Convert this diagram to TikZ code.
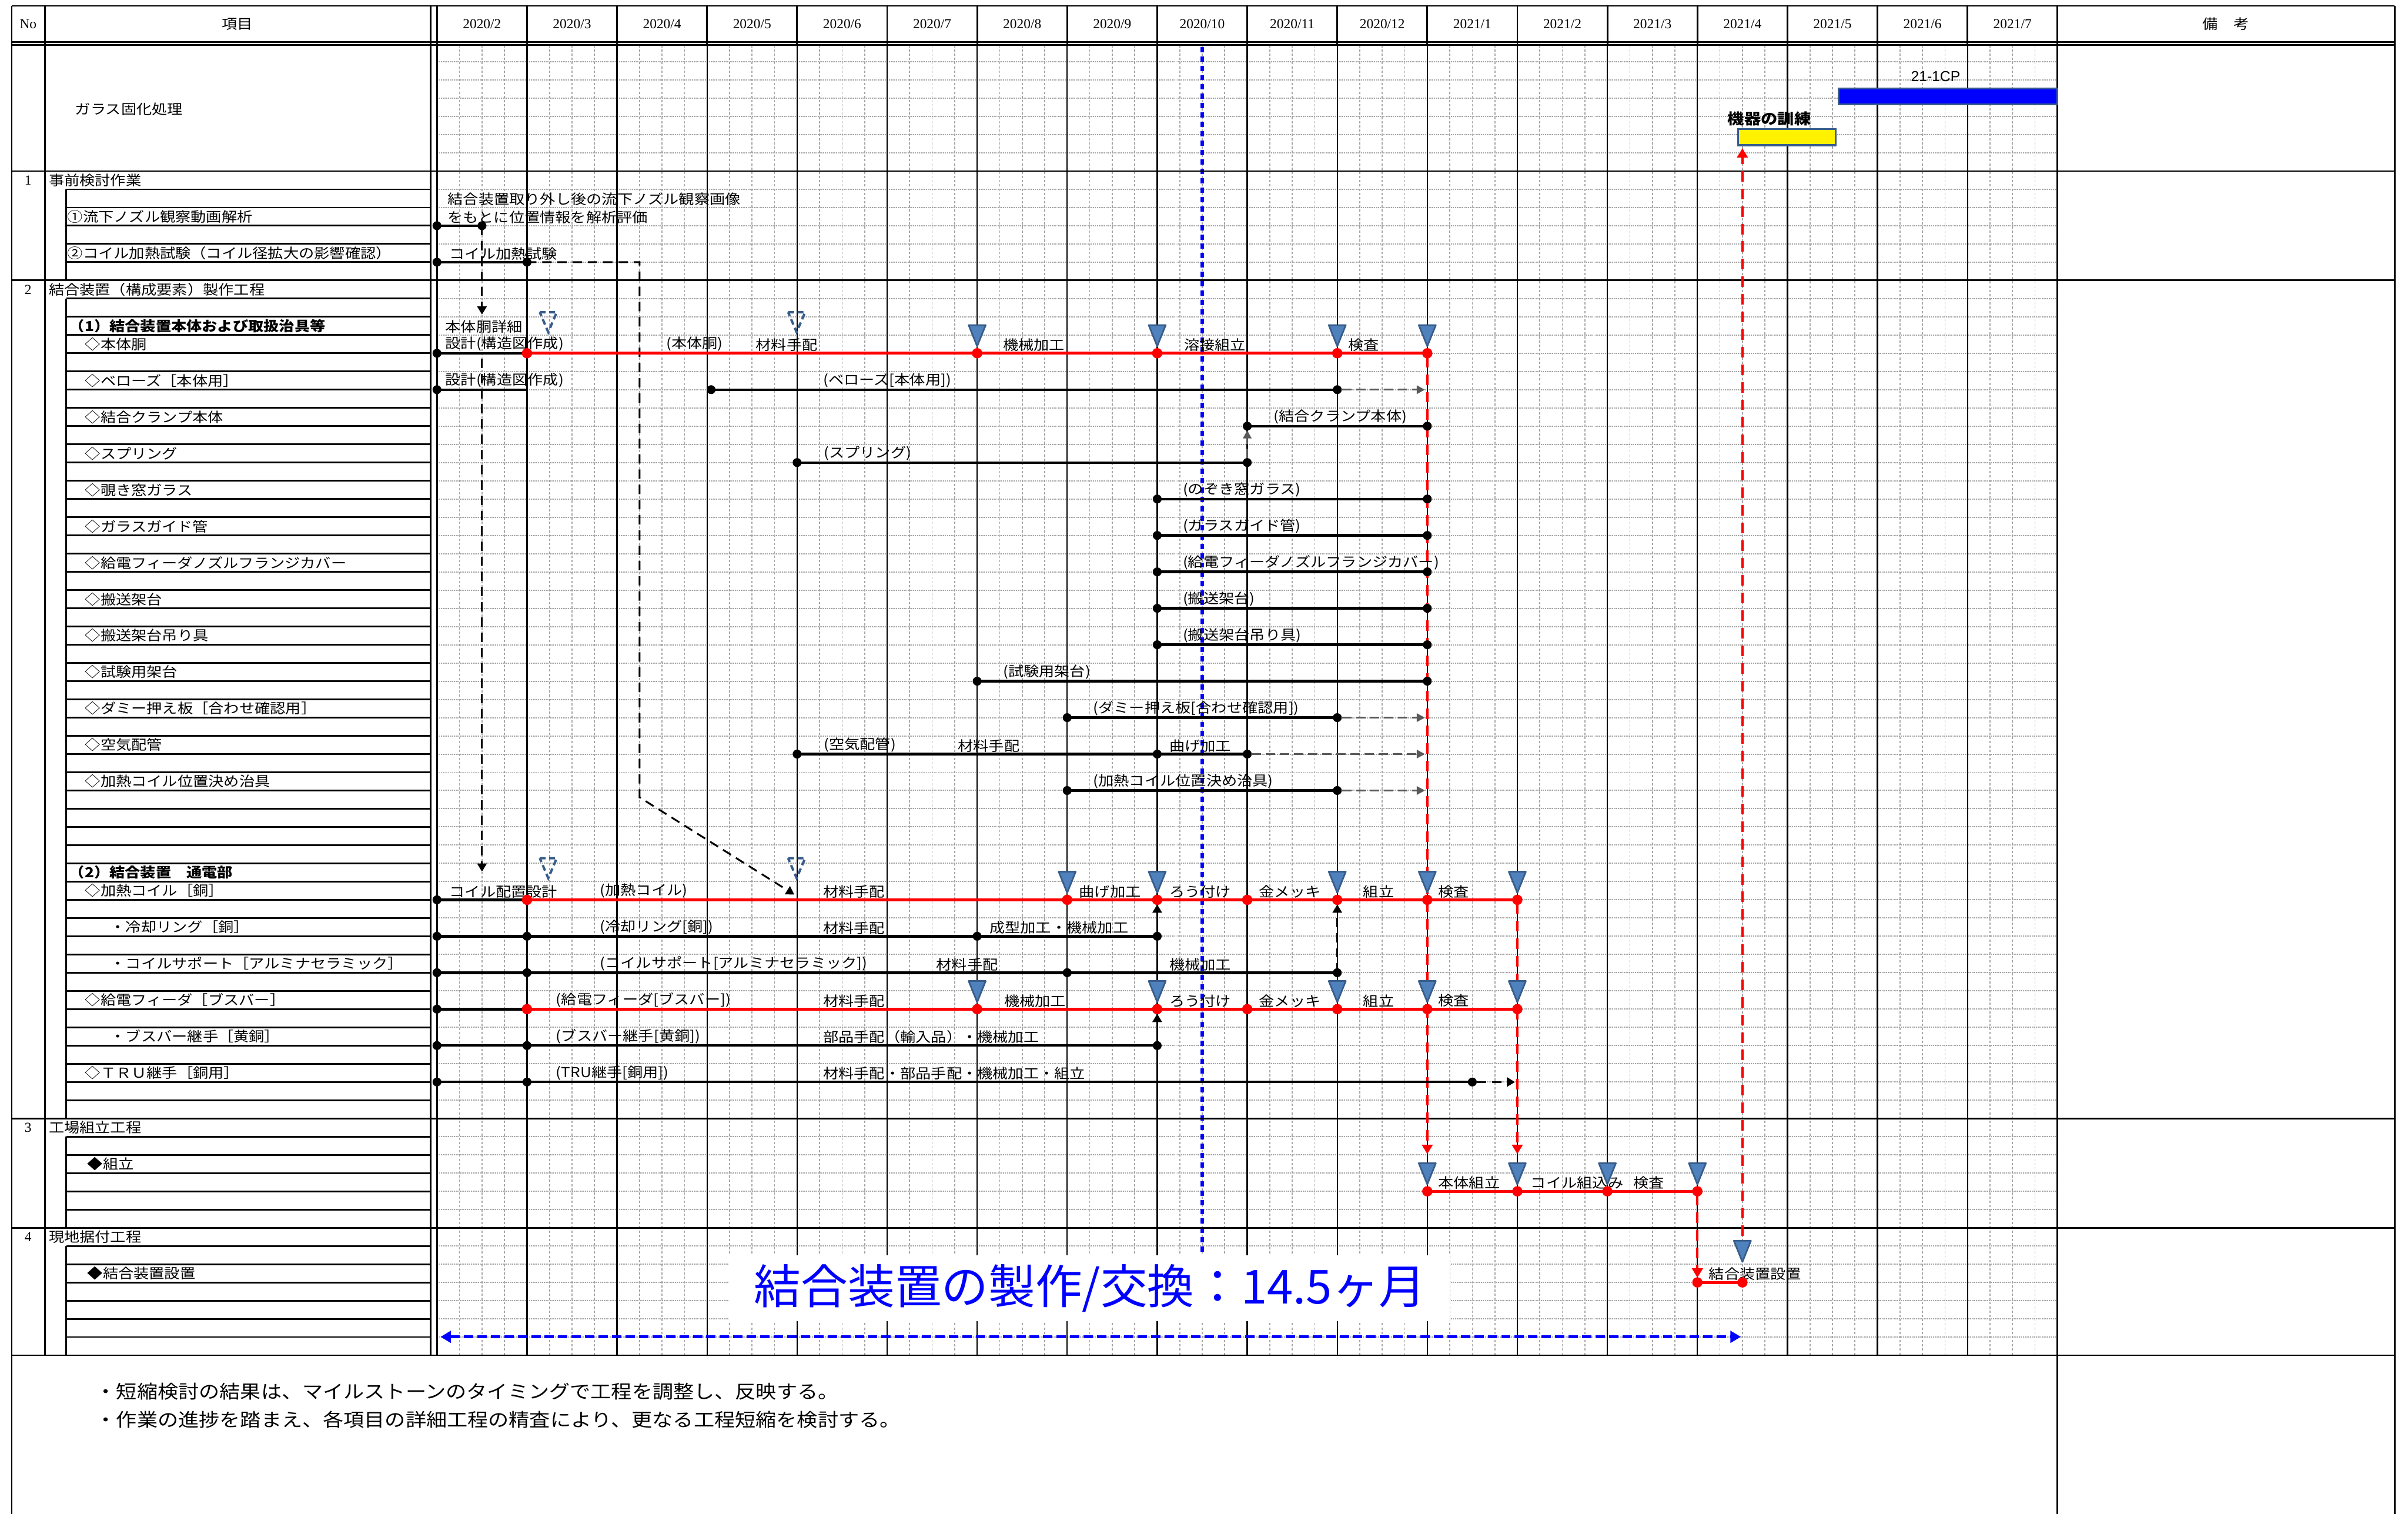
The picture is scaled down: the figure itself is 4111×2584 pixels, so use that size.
\documentclass[tikz,border=0pt]{standalone}
\usepackage{fontspec}
\setmainfont{Liberation Serif}
\newfontfamily\jpfam[FakeStretch=1.12]{Noto Sans CJK JP}
\newfontfamily\jpplain{Noto Sans CJK JP}
\newfontfamily\arialfam{Liberation Sans}
\usetikzlibrary{arrows.meta}
\definecolor{mblue}{HTML}{4F81BD}
\definecolor{mborder}{HTML}{385D8A}
\definecolor{gridg}{HTML}{A6A6A6}
\definecolor{arrg}{HTML}{595959}
\newcounter{lab}
\newcommand\MX[1]{(746+153.7*(#1))}
\newcommand\KY[1]{(292+31.1*(#1))}
\newcommand\jpf{\jpfam\fontsize{11.75}{13}\selectfont}
\newcommand\serf{\fontsize{11.75}{13}\selectfont}
\newcommand\lab[3]{\stepcounter{lab}\node[lbl] (lab\arabic{lab}) at ({#1},{\KY{#2}}) {#3};}
\newcommand\itm[3]{\stepcounter{lab}\node[itm] (itm\arabic{lab}) at ({#1},{\KY{#2+0.5}}) {#3};}
\newcommand\bseg[3]{\draw[bbar] ({\MX{#1}},{\KY{#3}}) -- ({\MX{#2}},{\KY{#3}});}
\newcommand\rseg[3]{\draw[rbar] ({\MX{#1}},{\KY{#3}}) -- ({\MX{#2}},{\KY{#3}});}
\newcommand\bdots[2]{\foreach \mm in {#1}{\fill[black] ({\MX{\mm}},{\KY{#2}}) circle (3.8pt);}}
\newcommand\rdots[2]{\foreach \mm in {#1}{\fill[red] ({\MX{\mm}},{\KY{#2}}) circle (4.4pt);}}
\newcommand\milexy[2]{\draw[mile] ({#1},{#2}) ++(-14.5,0) -- ++(29,0) -- ++(-14.5,36) -- cycle;}
\newcommand\miles[2]{\foreach \mm in {#1}{\milexy{\MX{\mm}}{\KY{#2}-48}}}
\newcommand\pmilexy[2]{\draw[pmile] ({#1},{#2}) ++(-14.5,0) -- ++(29,0) -- ++(-14.5,34) -- cycle;}
\begin{document}
\begin{tikzpicture}[x=0.5pt,y=-0.5pt,
  thickline/.style={line width=1.4pt,black},
  mline/.style={line width=1.1pt,black},
  hgrid/.style={gridg,line width=1pt,dash pattern=on 1pt off 0.6pt},
  vgrid/.style={gridg,line width=0.9pt,dash pattern=on 2pt off 1.6pt},
  bbar/.style={black,line width=2.2pt},
  rbar/.style={red,line width=2.6pt},
  mile/.style={fill=mblue,draw=mborder,line width=1.4pt,line join=round},
  pmile/.style={draw=mborder,line width=2pt,dash pattern=on 5pt off 3pt},
  garr/.style={arrg,line width=1.7pt,dash pattern=on 8pt off 4pt,-{Triangle[length=7pt,width=7pt]}},
  karr/.style={black,line width=1.5pt,dash pattern=on 8pt off 5pt,-{Triangle[length=7pt,width=8pt]}},
  sarr/.style={black,line width=1.5pt,-{Triangle[length=7pt,width=8pt]}},
  rarr/.style={red,line width=2pt,dash pattern=on 9pt off 6pt,-{Triangle[length=8pt,width=9pt]}},
  lbl/.style={anchor=south west,inner sep=0pt,font=\jpf,yshift=1.5pt},
  itm/.style={anchor=west,inner sep=0pt,font=\jpf},
  hdr/.style={inner sep=0pt,font=\serf},
]
\useasboundingbox (0,0) rectangle (4111,2584);
\fill[white] (0,0) rectangle (4111,2584);

% ---------- grid ----------
\foreach \kk in {-6,...,64}{\draw[hgrid] (746,{\KY{\kk}}) -- (3512,{\KY{\kk}});}
\foreach \m in {0,...,17}{\foreach \q in {0.25,0.5,0.75}{\draw[vgrid] ({\MX{\m+\q}},77) -- ({\MX{\m+\q}},2313);}}
\foreach \m in {1,...,17}{\draw[mline] ({\MX{\m}},77) -- ({\MX{\m}},2313); \draw[thickline] ({\MX{\m}},10) -- ({\MX{\m}},77);}

% white box behind big title
\fill[white] (1244,2143) rectangle (2475,2255);

% blue dotted "now" line
\draw[blue,line width=3.5pt,dash pattern=on 4.5pt off 3.5pt] ({\MX{8.5}},80) -- ({\MX{8.5}},2140);

% ---------- frame ----------
\draw[thickline] (20,10) -- (20,2584);
\draw[thickline] (77,10) -- (77,2313);
\draw[thickline] (735,10) -- (735,2313);
\draw[thickline] (746,10) -- (746,2313);
\draw[thickline] (3512,10) -- (3512,2584);
\draw[thickline] (4088,10) -- (4088,2584);
\foreach \yv in {10,72,77,292}{\draw[thickline] (20,\yv) -- (4088,\yv);}
\foreach \kk in {6,52,58,65}{\draw[thickline] (20,{\KY{\kk}}) -- (4088,{\KY{\kk}});}
\foreach \a/\b in {1/6,7/52,53/58,59/65}{\draw[thickline] (113,{\KY{\a}}) -- (113,{\KY{\b}});}
\foreach \kk in {1,...,5}{\draw[thickline] (113,{\KY{\kk}}) -- (735,{\KY{\kk}});}
\foreach \kk in {7,...,51}{\draw[thickline] (113,{\KY{\kk}}) -- (735,{\KY{\kk}});}
\foreach \kk in {53,...,57}{\draw[thickline] (113,{\KY{\kk}}) -- (735,{\KY{\kk}});}
\foreach \kk in {59,...,64}{\draw[thickline] (113,{\KY{\kk}}) -- (735,{\KY{\kk}});}

% ---------- header ----------
\node[hdr] (hNo) at (48,41) {No};
\node[hdr,font=\jpf] (hItem) at (405,41) {項目};
\foreach \m in {0,...,17}{
  \pgfmathtruncatemacro\yy{\m<11 ? 2020 : 2021}
  \pgfmathtruncatemacro\mo{\m<11 ? \m+2 : \m-10}
  \node[hdr] (mon\m) at ({\MX{\m+0.5}},41) {\yy/\mo};
}
\node[hdr,font=\jpf] (hRem) at (3800,41) {備　考};

% ---------- item column ----------
\node[itm] (glass) at (128,186) {ガラス固化処理};
\node[hdr] (n1) at (48,{\KY{0.5}}) {1};
\itm{83}{0}{事前検討作業}
\itm{115}{2}{①流下ノズル観察動画解析}
\itm{115}{4}{②コイル加熱試験（コイル径拡大の影響確認）}
\node[hdr] (n2) at (48,{\KY{6.5}}) {2};
\itm{83}{6}{結合装置（構成要素）製作工程}
\node[itm,font=\jpf\bfseries] (sub1) at (118,{\KY{8.5}}) {（1）結合装置本体および取扱治具等};
\itm{145}{9}{◇本体胴}
\itm{145}{11}{◇ベローズ［本体用］}
\itm{145}{13}{◇結合クランプ本体}
\itm{145}{15}{◇スプリング}
\itm{145}{17}{◇覗き窓ガラス}
\itm{145}{19}{◇ガラスガイド管}
\itm{145}{21}{◇給電フィーダノズルフランジカバー}
\itm{145}{23}{◇搬送架台}
\itm{145}{25}{◇搬送架台吊り具}
\itm{145}{27}{◇試験用架台}
\itm{145}{29}{◇ダミー押え板［合わせ確認用］}
\itm{145}{31}{◇空気配管}
\itm{145}{33}{◇加熱コイル位置決め治具}
\node[itm,font=\jpf\bfseries] (sub2) at (118,{\KY{38.5}}) {（2）結合装置　通電部};
\itm{145}{39}{◇加熱コイル［銅］}
\itm{188}{41}{・冷却リング［銅］}
\itm{188}{43}{・コイルサポート［アルミナセラミック］}
\itm{145}{45}{◇給電フィーダ［ブスバー］}
\itm{188}{47}{・ブスバー継手［黄銅］}
\itm{145}{49}{◇ＴＲＵ継手［銅用］}
\node[hdr] (n3) at (48,{\KY{52.5}}) {3};
\itm{83}{52}{工場組立工程}
\itm{149}{54}{◆組立}
\node[hdr] (n4) at (48,{\KY{58.5}}) {4};
\itm{83}{58}{現地据付工程}
\itm{149}{60}{◆結合装置設置}

% ---------- top bars ----------
\draw[fill=yellow,draw=mborder,line width=1.6pt] (2967,220) rectangle (3134,248);
\node[anchor=west,inner sep=0pt,font=\jpfam\bfseries\fontsize{12.7}{14}\selectfont] (train) at (2949,203) {機器の訓練};
\draw[fill=blue,draw=mborder,line width=1.6pt] (3139,151) rectangle (3512,178);
\node[anchor=west,inner sep=0pt,font=\arialfam\fontsize{12.4}{14}\selectfont] (cp) at (3262,130) {21-1CP};

% ---------- section 1 ----------
\lab{764}{2}{結合装置取り外し後の流下ノズル観察画像}
\lab{764}{3}{をもとに位置情報を解析評価}
\lab{767}{5}{コイル加熱試験}
\coordinate (a1s) at ({\MX{0.5}},{\KY{3}});
\coordinate (a1e) at ({\MX{0.5}},537);
\draw[karr] (a1s) -- (a1e);
\coordinate (a2s) at ({\MX{0.5}},612);
\coordinate (a2e) at ({\MX{0.5}},1488);
\draw[karr] (a2s) -- (a2e);
\coordinate (a3s) at ({\MX{1}},{\KY{5}});
\coordinate (a3b) at ({\MX{2.25}},{\KY{5}});
\coordinate (a3c) at ({\MX{2.25}},1361);
\coordinate (a3e) at (1356,1527);
\draw[karr] (a3s) -- (a3b) -- (a3c) -- (a3e);
\bseg{0}{0.5}{3}\bdots{0,0.5}{3}
\bseg{0}{1}{5}\bdots{0,1}{5}

% ---------- section 2 (1) ----------
\lab{760}{9}{本体胴詳細}
\lab{760}{10}{設計(構造図作成)}
\lab{1137}{10}{(本体胴)}
\lab{1290}{10}{材料手配}
\lab{1712}{10}{機械加工}
\lab{2021}{10}{溶接組立}
\lab{2301}{10}{検査}
\coordinate (r11s) at ({\MX{11}},{\KY{10}+6});
\coordinate (r11e) at ({\MX{11}},1970);
\draw[rarr] (r11s) -- (r11e);
\coordinate (r12s) at ({\MX{12}},{\KY{40}+6});
\coordinate (r12e) at ({\MX{12}},1970);
\draw[rarr] (r12s) -- (r12e);
\bseg{0}{1}{10}\rseg{1}{11}{10}\bdots{0}{10}\rdots{1,6,8,10,11}{10}\miles{6,8,10,11}{10}
\pmilexy{936}{\KY{10}-70}\pmilexy{1360}{\KY{10}-70}

\lab{760}{12}{設計(構造図作成)}
\lab{1405}{12}{(ベローズ[本体用])}
\bseg{0}{1}{12}\bdots{0}{12}
\draw[bbar] (1214,{\KY{12}}) -- ({\MX{10}},{\KY{12}});
\fill (1214,{\KY{12}}) circle (3.8pt);
\bdots{10}{12}
\coordinate (g1s) at ({\MX{10}+8},{\KY{12}}); \coordinate (g1e) at ({\MX{11}-4},{\KY{12}});
\draw[garr] (g1s) -- (g1e);

\lab{2174}{14}{(結合クランプ本体)}
\bseg{9}{11}{14}\bdots{9,11}{14}
\lab{1406}{16}{(スプリング)}
\bseg{4}{9}{16}\bdots{4,9}{16}
\coordinate (g2s) at ({\MX{9}},{\KY{16}-8}); \coordinate (g2e) at ({\MX{9}},{\KY{14}+7});
\draw[garr] (g2s) -- (g2e);

\lab{2019}{18}{(のぞき窓ガラス)}\bseg{8}{11}{18}\bdots{8,11}{18}
\lab{2019}{20}{(ガラスガイド管)}\bseg{8}{11}{20}\bdots{8,11}{20}
\lab{2019}{22}{(給電フィーダノズルフランジカバー)}\bseg{8}{11}{22}\bdots{8,11}{22}
\lab{2019}{24}{(搬送架台)}\bseg{8}{11}{24}\bdots{8,11}{24}
\lab{2019}{26}{(搬送架台吊り具)}\bseg{8}{11}{26}\bdots{8,11}{26}
\lab{1712}{28}{(試験用架台)}\bseg{6}{11}{28}\bdots{6,11}{28}
\lab{1866}{30}{(ダミー押え板[合わせ確認用])}\bseg{7}{10}{30}\bdots{7,10}{30}
\coordinate (g3s) at ({\MX{10}+8},{\KY{30}}); \coordinate (g3e) at ({\MX{11}-4},{\KY{30}});
\draw[garr] (g3s) -- (g3e);
\lab{1406}{32}{(空気配管)}\lab{1635}{32}{材料手配}\lab{1996}{32}{曲げ加工}
\bseg{4}{9}{32}\bdots{4,8,9}{32}
\coordinate (g4s) at ({\MX{9}+8},{\KY{32}}); \coordinate (g4e) at ({\MX{11}-4},{\KY{32}});
\draw[garr] (g4s) -- (g4e);
\lab{1866}{34}{(加熱コイル位置決め治具)}\bseg{7}{10}{34}\bdots{7,10}{34}
\coordinate (g5s) at ({\MX{10}+8},{\KY{34}}); \coordinate (g5e) at ({\MX{11}-4},{\KY{34}});
\draw[garr] (g5s) -- (g5e);

% ---------- section 2 (2) ----------
\lab{767}{40}{コイル配置設計}\lab{1024}{40}{(加熱コイル)}\lab{1405}{40}{材料手配}
\lab{1842}{40}{曲げ加工}\lab{1996}{40}{ろう付け}\lab{2149}{40}{金メッキ}\lab{2327}{40}{組立}\lab{2455}{40}{検査}
\lab{1024}{42}{(冷却リング[銅])}\lab{1405}{42}{材料手配}\lab{1689}{42}{成型加工・機械加工}
\lab{1024}{44}{(コイルサポート[アルミナセラミック])}\lab{1598}{44}{材料手配}\lab{1996}{44}{機械加工}
\lab{949}{46}{(給電フィーダ[ブスバー])}\lab{1405}{46}{材料手配}\lab{1714}{46}{機械加工}
\lab{1996}{46}{ろう付け}\lab{2149}{46}{金メッキ}\lab{2327}{46}{組立}\lab{2455}{46}{検査}
\lab{949}{48}{(ブスバー継手[黄銅])}\lab{1405}{48}{部品手配（輸入品）・機械加工}
\lab{949}{50}{(TRU継手[銅用])}\lab{1405}{50}{材料手配・部品手配・機械加工・組立}

\bseg{0}{1}{40}\rseg{1}{12}{40}\bdots{0}{40}\rdots{1,7,8,9,10,11,12}{40}\miles{7,8,10,11,12}{40}
\pmilexy{936}{\KY{40}-71}\pmilexy{1360}{\KY{40}-71}
\bseg{0}{8}{42}\bdots{0,1,6,8}{42}
\bseg{0}{10}{44}\bdots{0,1,7,10}{44}
\bseg{0}{1}{46}\rseg{1}{12}{46}\bdots{0}{46}\rdots{1,6,8,9,10,11,12}{46}\miles{6,8,10,11,12}{46}
\bseg{0}{8}{48}\bdots{0,1,8}{48}
\bseg{0}{11.5}{50}\bdots{0,1,11.5}{50}
\coordinate (k1s) at ({\MX{8}},{\KY{42}}); \coordinate (k1e) at ({\MX{8}},{\KY{40}+8});
\draw[sarr] (k1s) -- (k1e);
\coordinate (k2s) at ({\MX{10}},{\KY{44}}); \coordinate (k2e) at ({\MX{10}},{\KY{40}+8});
\draw[karr] (k2s) -- (k2e);
\coordinate (k3s) at ({\MX{8}},{\KY{48}}); \coordinate (k3e) at ({\MX{8}},{\KY{46}+8});
\draw[karr] (k3s) -- (k3e);
\coordinate (k4s) at ({\MX{11.5}+8},{\KY{50}}); \coordinate (k4e) at ({\MX{12}-4},{\KY{50}});
\draw[karr] (k4s) -- (k4e);

% ---------- section 3 ----------
\lab{2455}{56}{本体組立}\lab{2613}{56}{コイル組込み}\lab{2788}{56}{検査}
\coordinate (r14s) at ({\MX{14}},{\KY{56}+6}); \coordinate (r14e) at ({\MX{14}},{\KY{61}-8});
\draw[rarr] (r14s) -- (r14e);
\rseg{11}{14}{56}\rdots{11,12,13,14}{56}\miles{11,12,13,14}{56}

% ---------- section 4 ----------
\lab{2917}{61}{結合装置設置}
\coordinate (r15s) at ({\MX{14.5}},2110); \coordinate (r15e) at ({\MX{14.5}},253);
\draw[rarr] (r15s) -- (r15e);
\rseg{14}{14.5}{61}\rdots{14,14.5}{61}
\milexy{\MX{14.5}}{2118}

% ---------- big title & span arrow ----------
\node[text=blue,inner sep=0pt,font=\jpplain\fontsize{40}{44}\selectfont] (bigtxt) at (1861,2199) {結合装置の製作/交換：14.5ヶ月};
\coordinate (d1) at (752,2282); \coordinate (d2) at (2972,2282);
\draw[blue,line width=2.5pt,dash pattern=on 8pt off 3.5pt,{Triangle[length=9pt,width=10pt]}-{Triangle[length=9pt,width=10pt]}] (d1) -- (d2);

% ---------- notes ----------
\node[anchor=west,inner sep=0pt,font=\jpfam\fontsize{15.75}{18}\selectfont] (note1) at (163,2375) {・短縮検討の結果は、マイルストーンのタイミングで工程を調整し、反映する。};
\node[anchor=west,inner sep=0pt,font=\jpfam\fontsize{15.75}{18}\selectfont] (note2) at (163,2423) {・作業の進捗を踏まえ、各項目の詳細工程の精査により、更なる工程短縮を検討する。};
\end{tikzpicture}
\end{document}
